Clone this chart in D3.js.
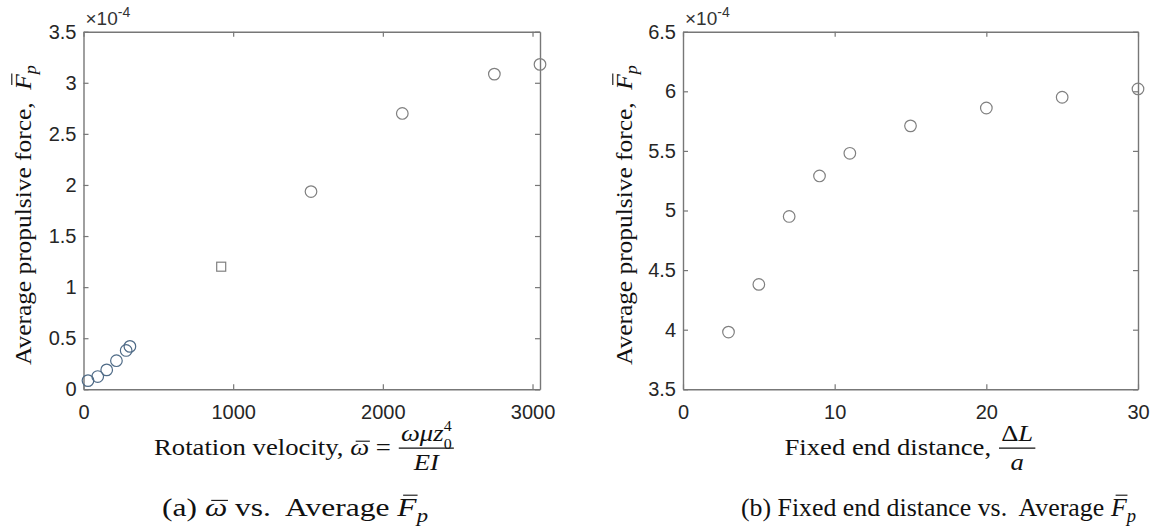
<!DOCTYPE html>
<html lang="en">
<head>
<meta charset="utf-8">
<title>Average propulsive force</title>
<script src="https://cdn.jsdelivr.net/npm/d3@7"></script>
<style>
  body { margin: 0; background: #fff; }
  svg { display: block; }
  svg text { white-space: pre; }
  .tick text { font-family: "Liberation Sans", Arial, sans-serif; font-size: 20px; fill: #262626; }
  .tick line { stroke: #777; stroke-width: 1.2px; }
  .domain { stroke: #777; stroke-width: 1.4px; }
</style>
</head>
<body>
<svg id="vis" width="1158" height="531"></svg>
<script>
// ---- data (forces in units of 1e-4) ----
var omegaLow = [30, 95, 155, 220, 285, 310];
var forceLow = [0.085, 0.125, 0.19, 0.28, 0.38, 0.42];
var omegaSq = [920];
var forceSq = [1.20];
var omegaHigh = [1520, 2130, 2745, 3050];
var forceHigh = [1.935, 2.70, 3.085, 3.18];

var distance = [3, 5, 7, 9, 11, 15, 20, 25, 30];
var forceDist = [3.98, 4.38, 4.95, 5.29, 5.48, 5.71, 5.86, 5.95, 6.02];

var leftXTicks = [0, 1000, 2000, 3000];
var leftYTicks = [0, 0.5, 1, 1.5, 2, 2.5, 3, 3.5];
var rightXTicks = [0, 10, 20, 30];
var rightYTicks = [3.5, 4, 4.5, 5, 5.5, 6, 6.5];

var serif = "'Liberation Serif', 'DejaVu Serif', serif";
var svg = d3.select("#vis");

// draws a row of text pieces (with overbars, sub/superscripts, fractions), returns width
function richRow(parent, pieces, size) {
  var g = parent.append("g");
  var x = 0;
  pieces.forEach(function(p) {
    if (p.frac) {
      var num = richRow(g, p.frac[0], size),
          den = richRow(g, p.frac[1], size);
      var w = Math.max(num.w, den.w) + size * 0.25;
      var axis = -size * 0.3;
      num.g.attr("transform", "translate(" + (x + (w - num.w) / 2) + "," + (axis - size * 0.3) + ")");
      den.g.attr("transform", "translate(" + (x + (w - den.w) / 2) + "," + (axis + size * 0.95) + ")");
      g.append("line")
        .attr("x1", x + 1).attr("x2", x + w - 1)
        .attr("y1", axis).attr("y2", axis)
        .attr("stroke", "#111").attr("stroke-width", 1.1);
      x += w;
      return;
    }
    var fs = size * (p.s || 1);
    var t = g.append("text")
      .attr("x", x).attr("y", (p.dy || 0) * size)
      .style("font-family", serif)
      .style("font-size", fs + "px")
      .style("font-style", p.it ? "italic" : "normal")
      .attr("fill", "#111")
      .text(p.t);
    var w = t.node().getComputedTextLength();
    if (p.bar) {
      var by = -size * (p.barY || 0.62);
      g.append("line")
        .attr("x1", x + w * 0.2 + (p.it ? size * 0.06 : 0)).attr("x2", x + w * 0.95 + (p.it ? size * 0.06 : 0))
        .attr("y1", by).attr("y2", by)
        .attr("stroke", "#111").attr("stroke-width", 1.1);
    }
    x += w + (p.after || 0);
  });
  return { g: g, w: x };
}

// centre a rich label at (cx, cy), stretched along its length to span `len` px
function placeRich(pieces, size, cx, cy, len, rotate) {
  var holder = svg.append("g");
  var r = richRow(holder, pieces, size);
  var sx = len / r.w;
  holder.attr("transform", "translate(" + cx + "," + cy + ")" + (rotate ? " rotate(-90)" : "") +
    " scale(" + sx + ",1) translate(" + (-r.w / 2) + ",0)");
}

var fpPieces = [
  { t: "Average propulsive force,  " },
  { t: "F", it: true, bar: true, barY: 0.8 },
  { t: "p", it: true, s: 0.72, dy: 0.22 }
];

function panel(x0, x1, y0, y1, xDomain, yDomain, xTicks, yTicks) {
  var x = d3.scaleLinear().domain(xDomain).range([x0, x1]);
  var y = d3.scaleLinear().domain(yDomain).range([y1, y0]);
  var g = svg.append("g");

  g.append("g").attr("transform", "translate(0," + y1 + ")")
    .call(d3.axisBottom(x).tickValues(xTicks).tickSize(-5).tickSizeOuter(0).tickPadding(16).tickFormat(d3.format("d")));
  g.append("g").attr("transform", "translate(0," + y0 + ")")
    .call(d3.axisTop(x).tickValues(xTicks).tickSize(-5).tickSizeOuter(0).tickFormat(""));
  g.append("g").attr("transform", "translate(" + x0 + ",0)")
    .call(d3.axisLeft(y).tickValues(yTicks).tickSize(-5).tickSizeOuter(0).tickPadding(7).tickFormat(d3.format("~g")));
  g.append("g").attr("transform", "translate(" + x1 + ",0)")
    .call(d3.axisRight(y).tickValues(yTicks).tickSize(-5).tickSizeOuter(0).tickFormat(""));

  // exponent note
  var e = g.append("text").attr("x", x0 + 2).attr("y", y0 - 7)
    .style("font-family", "'Liberation Sans', Arial, sans-serif")
    .style("font-size", "19px").attr("fill", "#333");
  e.append("tspan").text("\u00d710");
  e.append("tspan").attr("dy", -8).style("font-size", "14px").text("-4");

  return { x: x, y: y, g: g };
}

function circles(p, xs, ys, color) {
  p.g.selectAll(null).data(xs).enter().append("circle")
    .attr("cx", function(d) { return p.x(d); })
    .attr("cy", function(d, i) { return p.y(ys[i]); })
    .attr("r", 5.8)
    .attr("fill", "none").attr("stroke", color).attr("stroke-width", 1.2);
}

// ---- left panel ----
var L = panel(83.5, 540, 31.7, 389.3, [0, 3050], [0, 3.5], leftXTicks, leftYTicks);
circles(L, omegaLow, forceLow, "#4f6b87");
L.g.selectAll(null).data(omegaSq).enter().append("rect")
  .attr("x", function(d) { return L.x(d) - 4.5; })
  .attr("y", function(d, i) { return L.y(forceSq[i]) - 4.5; })
  .attr("width", 9).attr("height", 9)
  .attr("fill", "none").attr("stroke", "#808080").attr("stroke-width", 1.2);
circles(L, omegaHigh, forceHigh, "#808080");

// ---- right panel ----
var R = panel(683, 1138, 31.7, 389.3, [0, 30], [3.5, 6.5], rightXTicks, rightYTicks);
circles(R, distance, forceDist, "#808080");

// ---- labels ----
placeRich(fpPieces, 24, 31, 215, 300, true);
placeRich(fpPieces, 24, 632, 215, 300, true);

placeRich([
  { t: "Rotation velocity, " },
  { t: "\u03c9", it: true, bar: true, barY: 0.6 },
  { t: " = " },
  { frac: [
    [{ t: "\u03c9\u03bcz", it: true }, { t: "0", s: 0.6, dy: 0.32, after: -23 * 0.3 }, { t: "4", s: 0.6, dy: -0.46 }],
    [{ t: "EI", it: true }]
  ] }
], 23, 304.5, 455, 301, false);

placeRich([
  { t: "Fixed end distance, " },
  { frac: [
    [{ t: "\u0394" }, { t: "L", it: true }],
    [{ t: "a", it: true }]
  ] }
], 23, 910.5, 455, 252, false);

placeRich([
  { t: "(a) " },
  { t: "\u03c9", it: true, bar: true, barY: 0.6 },
  { t: " vs.  Average " },
  { t: "F", it: true, bar: true, barY: 0.8 },
  { t: "p", it: true, s: 0.72, dy: 0.22 }
], 26, 295, 516, 266, false);

placeRich([
  { t: "(b) Fixed end distance vs.  Average " },
  { t: "F", it: true, bar: true, barY: 0.8 },
  { t: "p", it: true, s: 0.72, dy: 0.22 }
], 26, 938.5, 516, 395, false);
</script>
</body>
</html>
